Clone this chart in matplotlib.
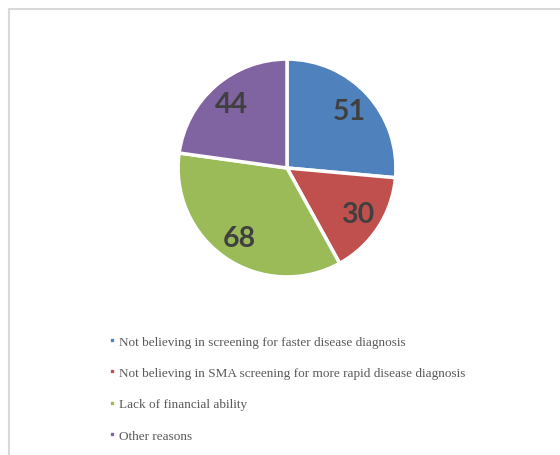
import matplotlib.pyplot as plt
from matplotlib.lines import Line2D
from matplotlib.patches import Rectangle

# reasons for not doing the screening
reasons = ['Not believing in screening for faster disease diagnosis',
           'Not believing in SMA screening for more rapid disease diagnosis',
           'Lack of financial ability',
           'Other reasons']
counts = [51, 30, 68, 44]
colors = ['#4F81BD', '#C0504D', '#9BBB59', '#8064A2']

W, H = 560, 456
fig = plt.figure(figsize=(W / 100, H / 100), dpi=100)

# grey frame of the chart area (left + top only visible)
fig.add_artist(Rectangle((8.5 / W, -0.1), 1.2, (H - 9.5) / H + 0.1,
                         transform=fig.transFigure, fill=False,
                         edgecolor='#d9d9d9', linewidth=1.5))

cx, cy, r = 287, 169, 110
ax = fig.add_axes([(cx - r) / W, (H - cy - r) / H, 2 * r / W, 2 * r / H])
wedges, texts, autotexts = ax.pie(
    counts, colors=colors, startangle=90, counterclock=False,
    autopct=lambda p: '%d' % round(p * sum(counts) / 100),
    pctdistance=0.78,
    wedgeprops=dict(edgecolor='white', linewidth=2.5))
for t in autotexts:
    t.set_fontsize(20.5)
    t.set_fontweight('bold')
    t.set_fontfamily('Lato')
    t.set_color('#404040')
ax.set_xlim(-1.01, 1.01)
ax.set_ylim(-1.01, 1.01)
ax.set_aspect('equal')

handles = [Line2D([], [], marker='s', linestyle='none', markersize=2,
                  markerfacecolor=c, markeredgecolor=c) for c in colors]
leg = fig.legend(handles, reasons, loc='center left',
                 bbox_to_anchor=(101 / W, (H - 389.5) / H),
                 frameon=False, handlelength=0.6, handletextpad=0.3,
                 labelspacing=1.45, borderpad=0,
                 prop={'family': 'Liberation Serif', 'size': 9.5})
for t in leg.get_texts():
    t.set_color('#595959')

fig.savefig('out.png', dpi=100)
